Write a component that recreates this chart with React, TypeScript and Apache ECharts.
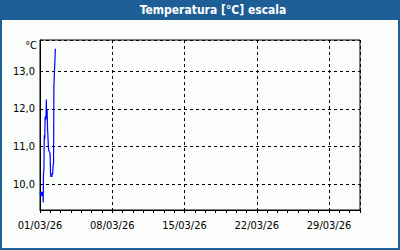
import React, { useEffect, useRef } from "react";
import * as echarts from "echarts";

// hours since 01/03/26 00:00
const hours = [0.5, 1.5, 2.5, 3.5, 4.5, 5.5, 6.5, 7.5, 8, 9, 10, 11, 12, 13, 14, 14.7, 15.5, 16.5, 17.5, 19, 19.7, 20.5, 22.5, 23.5, 24.5, 25.5, 26.5, 27.5, 28.5, 29.5, 30.5, 31.5, 32.3, 33.5, 35.7];
const temps = [9.8, 9.7, 9.8, 9.7, 9.8, 9.7, 9.8, 9.52, 10.3, 10.35, 11.3, 11.2, 11.8, 11.7, 11.85, 12.25, 11.75, 12.0, 11.5, 11.5, 10.95, 10.9, 10.85, 10.8, 10.3, 10.2, 10.25, 10.2, 10.3, 10.27, 10.5, 10.55, 12.6, 12.6, 13.6];
const dayLabels = ["01/03/26", "08/03/26", "15/03/26", "22/03/26", "29/03/26"];

const FONT = "DejaVu Sans Condensed";

export default function App() {
  const ref = useRef<HTMLDivElement>(null);
  useEffect(() => {
    const chart = echarts.init(ref.current!, null, { renderer: "svg" });
    const data = hours.map((h, i) => [h / 24, temps[i]]);
    const isInt = (v: number) => Math.abs(v - Math.round(v)) < 1e-6;
    chart.setOption({
      animation: false,
      backgroundColor: "#fbfdfb",
      grid: { left: 40, right: 40, top: 40, bottom: 40, show: true, borderColor: "#000", borderWidth: 1, backgroundColor: "transparent" },
      graphic: [
        { type: "rect", shape: { x: 0, y: 0, width: 400, height: 20 }, style: { fill: "#1e5e96" }, z: 10 },
        { type: "rect", shape: { x: 1, y: 1, width: 398, height: 248 }, style: { fill: "none", stroke: "#1e5e96", lineWidth: 2 }, z: 10 },
        { type: "text", x: 213, y: 10, style: { text: "Temperatura [°C] escala", fill: "#fff", font: `bold 12px "${FONT}"`, align: "center", verticalAlign: "middle" }, z: 11 },
        { type: "text", x: 37, y: 45, style: { text: "°C", fill: "#000", font: `11px "${FONT}"`, align: "right", verticalAlign: "middle" }, z: 11 },
      ],
      xAxis: [
        {
          type: "value", min: 0, max: 31, interval: 1,
          axisLine: { lineStyle: { color: "#000", width: 1 } },
          axisTick: { show: true, length: 3, inside: false, lineStyle: { color: "#000" } },
          axisLabel: {
            color: "#000", fontFamily: FONT, fontSize: 11, margin: 10,
            formatter: (v: number) => (v % 7 === 0 && v / 7 < dayLabels.length ? dayLabels[v / 7] : ""),
          },
          splitLine: { show: false },
        },
        {
          type: "value", min: 0, max: 31, interval: 7, position: "top",
          axisLine: { show: false }, axisTick: { show: false }, axisLabel: { show: false },
          splitLine: { show: true, lineStyle: { color: "#000", type: [3, 3], width: 1 } },
        },
      ],
      yAxis: {
        type: "value", min: 9.32, max: 13.83, splitNumber: 4,
        axisLine: { show: true, lineStyle: { color: "#000" } },
        axisTick: { show: false },
        axisLabel: {
          color: "#000", fontFamily: FONT, fontSize: 11, margin: 5,
          formatter: (v: number) => (isInt(v) ? Math.round(v).toFixed(1).replace(".", ",") : ""),
        },
        splitLine: { show: true, lineStyle: { color: "#000", type: [3, 3], width: 1 } },
      },
      series: [
        {
          type: "line", xAxisIndex: 0, data, showSymbol: false, symbol: "none",
          lineStyle: { color: "#0000ff", width: 1.2 },
        },
      ],
    });
    return () => chart.dispose();
  }, []);
  return <div ref={ref} style={{ position: "fixed", left: 0, top: 0, width: 400, height: 250 }} />;
}
